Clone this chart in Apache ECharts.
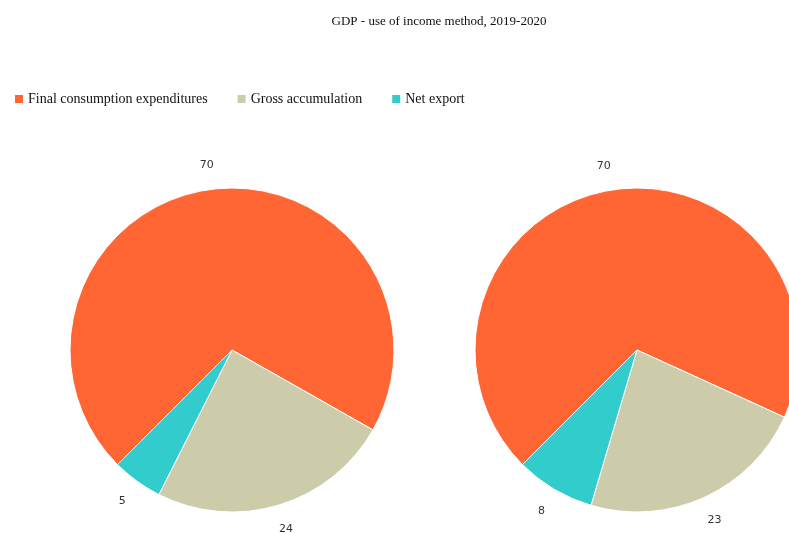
<!DOCTYPE html>
<html>
<head>
<meta charset="utf-8">
<script src="https://cdn.jsdelivr.net/npm/echarts@6/dist/echarts.min.js"></script>
<style>
  html, body { margin: 0; padding: 0; background: #fff; }
  #chart { width: 789px; height: 533px; }
</style>
</head>
<body>
<div id="chart"></div>
<script>
// GDP structure by use of income, two years side by side
const categories = ['Final consumption expenditures', 'Gross accumulation', 'Net export'];
const values2019 = [70, 24, 5];
const values2020 = [70, 23, 8];
const sliceColors = ['#FF6633', '#CCCCAA', '#33CCCC'];

const serif = '"Liberation Serif", "Times New Roman", serif';
const sans = '"DejaVu Sans", Verdana, sans-serif';

function toItems(vals) {
  return categories.map((name, i) => ({ name: name, value: vals[i] }));
}

const R = 162;
const centers = [[232, 350], [637, 350]];
const yearValues = [values2019, values2020];

const series = [];
yearValues.forEach((vals, k) => {
  // the pie itself
  series.push({
    type: 'pie',
    center: centers[k],
    radius: [0, R],
    startAngle: 225,
    clockwise: true,
    data: toItems(vals),
    label: { show: false },
    labelLine: { show: false },
    itemStyle: { borderColor: '#fff', borderWidth: 1 },
    emphasis: { scale: false }
  });
  // value labels sitting on a transparent ring just outside the pie
  series.push({
    type: 'pie',
    center: centers[k],
    radius: [R + 12, R + 32],
    startAngle: 225,
    clockwise: true,
    silent: true,
    data: toItems(vals),
    itemStyle: { color: 'rgba(0,0,0,0)' },
    label: {
      show: true,
      position: 'inside',
      formatter: '{c}',
      fontFamily: sans,
      fontSize: 11,
      color: '#333'
    },
    labelLine: { show: false },
    emphasis: { disabled: true }
  });
});

const chart = echarts.init(document.getElementById('chart'));
chart.setOption({
  animation: false,
  color: sliceColors,
  title: {
    text: 'GDP - use of income method, 2019-2020',
    left: 434,
    textAlign: 'center',
    top: 10,
    textStyle: { fontFamily: serif, fontSize: 13, fontWeight: 'normal', color: '#111' }
  },
  legend: {
    data: categories,
    left: 8,
    top: 87,
    icon: 'rect',
    itemWidth: 10,
    itemHeight: 10,
    itemGap: 28,
    textStyle: { fontFamily: serif, fontSize: 14, color: '#111', padding: [0, 0, 0, -1] }
  },
  series: series
});
</script>
</body>
</html>
